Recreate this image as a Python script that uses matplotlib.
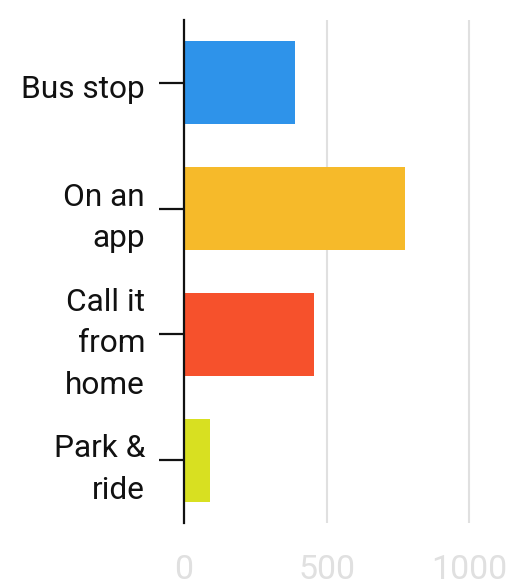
import matplotlib.pyplot as plt
import matplotlib.transforms as mtransforms

plt.rcParams['font.family'] = ['Roboto', 'DejaVu Sans']

# Data
categories = ['Bus stop', 'On an\napp', 'Call it\nfrom\nhome', 'Park &\nride']
values = [388, 774, 455, 90]
colors = ['#2E93EA', '#F6BA2A', '#F6512C', '#D8E021']
x_ticks = [0, 500, 1000]

fig = plt.figure(figsize=(5.19, 5.83), dpi=100)
ax = fig.add_axes([0.3545, 0.1029, 0.6047, 0.8628])

y = list(range(len(categories)))
ax.barh(y, values, height=0.66, color=colors, zorder=2)

ax.set_ylim(len(categories) - 0.5, -0.5)
ax.set_xlim(0, 1100)

ax.set_yticks(y)
ax.set_yticklabels(categories, fontsize=22.8, color='#111111',
                   linespacing=1.55, ha='right')
ax.tick_params(axis='y', length=18, width=1.6, color='#111111', pad=10)

# one-line labels sit a bit lower than the tick in the original
for lbl in ax.get_yticklabels():
    dy = -4 if '\n' not in lbl.get_text() else 0
    shift = mtransforms.ScaledTranslation(0, dy / 100, fig.dpi_scale_trans)
    lbl.set_transform(lbl.get_transform() + shift)

ax.set_xticks(x_ticks)
ax.set_xticklabels([str(t) for t in x_ticks], fontsize=24.5, color='#e0e0e0')
ax.tick_params(axis='x', length=0, pad=22)

ax.grid(True, axis='x', color='#e0e0e0', linewidth=1.5, zorder=0)
ax.set_axisbelow(True)

for s in ['top', 'right', 'bottom']:
    ax.spines[s].set_visible(False)
ax.spines['left'].set_linewidth(1.6)
ax.spines['left'].set_color('#111111')
ax.spines['left'].set_zorder(3)

fig.savefig('out.png', dpi=100, facecolor='white')
